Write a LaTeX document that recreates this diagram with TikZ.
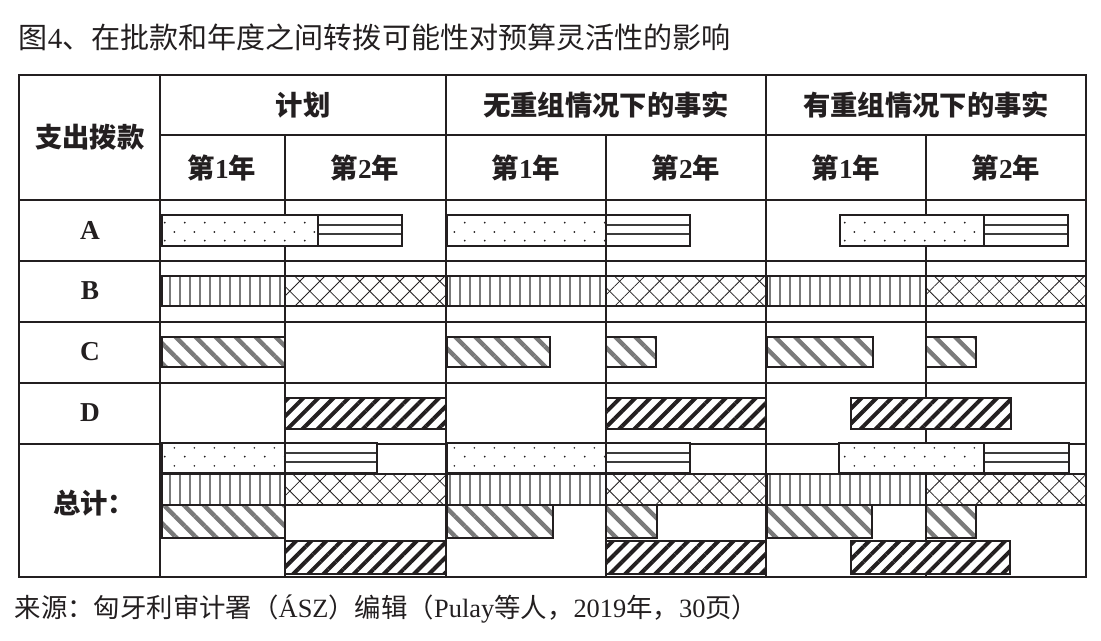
\documentclass[tikz,border=0pt]{standalone}
\usepackage{fontspec}
\setmainfont{Liberation Serif}
\newfontfamily\cjk{Noto Sans CJK SC}
\usepackage{tikz}
\usetikzlibrary{patterns.meta}
\definecolor{moHei}{HTML}{231F20}
\definecolor{zhongHui}{HTML}{7A7A7A}
\definecolor{shenHui}{HTML}{3C3C3C}

% staggered dots (year 1 of appropriation A)
\tikzdeclarepattern{
  name=cuoDian, type=uncolored,
  bottom left={(0pt,0pt)}, top right={(15pt,13.5pt)},
  tile size={(15pt,13.5pt)},
  code={\fill (3.75pt,3.4pt) circle (0.75pt); \fill (11.25pt,10.1pt) circle (0.75pt);}
}
% box with two horizontal lines
\newcommand{\hengTiao}[4]{%
  \draw[tiao] (#1,#2) rectangle (#3,#4);
  \draw[hengxian] (#1,{#2+10}) -- (#3,{#2+10}) (#1,{#2+19.5}) -- (#3,{#2+19.5});
  \draw[kuangxian] (#1,#2) rectangle (#3,#4);}

\begin{document}
\begin{tikzpicture}[x=0.75pt, y=-0.75pt, every node/.style={text=moHei},
  biao/.style={draw=moHei,line width=1.8pt},
  kuangxian/.style={draw=moHei,line width=2pt},
  tiao/.style={kuangxian,preaction={fill=white}},
  hengxian/.style={draw=shenHui,line width=1.5pt},
  dian/.style={tiao,pattern=cuoDian,pattern color=moHei},
  shu/.style={tiao,pattern={Lines[angle=90,distance=7.5pt,line width=1.5pt]},pattern color=zhongHui},
  wang/.style={tiao,preaction={pattern={Lines[angle=45,distance=10.6pt,line width=0.6pt]},pattern color=moHei},
               pattern={Lines[angle=-45,distance=10.6pt,line width=0.6pt]},pattern color=moHei},
  xieC/.style={tiao,pattern={Lines[angle=-45,distance=10.6pt,line width=3.3pt]},pattern color=zhongHui},
  xieD/.style={tiao,pattern={Lines[angle=45,distance=8pt,line width=3pt]},pattern color=moHei},
  biaotou/.style={font=\fontsize{20.5}{24}\selectfont\bfseries}]
\useasboundingbox (0,0) rectangle (1101,641);

\node[anchor=west,font=\fontsize{21.8}{26}\selectfont] (biaoti) at (14,37)
  {{\cjk 图}4{\cjk 、在批款和年度之间转拨可能性对预算灵活性的影响}};

% table grid
\draw[biao] (19,75) rectangle (1086,577);
\draw[biao] (160,135)--(1086,135); \draw[biao] (19,200)--(1086,200);
\draw[biao] (19,261)--(1086,261); \draw[biao] (19,322)--(1086,322);
\draw[biao] (19,383)--(1086,383); \draw[biao] (19,444)--(1086,444);
\draw[biao] (160,75)--(160,577); \draw[biao] (446,75)--(446,577); \draw[biao] (766,75)--(766,577);
\draw[biao] (285,135)--(285,577); \draw[biao] (606,135)--(606,577); \draw[biao] (926,135)--(926,577);

% headers
\node[biaotou] (zhichu) at (90,137) {{\cjk 支出拨款}};
\node[biaotou] (jihua) at (303,105) {{\cjk 计划}};
\node[biaotou] (wuchong) at (606,105) {{\cjk 无重组情况下的事实}};
\node[biaotou] (youchong) at (926,105) {{\cjk 有重组情况下的事实}};
\node[biaotou] (j1) at (222,168) {{\cjk 第}1{\cjk 年}};
\node[biaotou] (j2) at (365,168) {{\cjk 第}2{\cjk 年}};
\node[biaotou] (w1) at (526,168) {{\cjk 第}1{\cjk 年}};
\node[biaotou] (w2) at (686,168) {{\cjk 第}2{\cjk 年}};
\node[biaotou] (y1) at (846,168) {{\cjk 第}1{\cjk 年}};
\node[biaotou] (y2) at (1006,168) {{\cjk 第}2{\cjk 年}};
\node[biaotou] (hangA) at (90,230) {A};
\node[biaotou] (hangB) at (90,291) {B};
\node[biaotou] (hangC) at (90,352) {C};
\node[biaotou] (hangD) at (90,413) {D};
\node[biaotou] (zongji) at (94,503) {{\cjk 总计：}};

% plan
\draw[dian] (162,215) rectangle (318,246); \hengTiao{318}{215}{402}{246}
\draw[shu] (162,276) rectangle (285,306); \draw[wang] (285,276) rectangle (446,306);
\draw[xieC] (162,337) rectangle (285,367);
\draw[xieD] (285,398) rectangle (446,429);
\draw[dian] (162,443) rectangle (285,473); \hengTiao{285}{443}{377}{473}
\draw[shu] (162,474) rectangle (285,505); \draw[wang] (285,474) rectangle (446,505);
\draw[xieC] (162,505) rectangle (285,538);
\draw[xieD] (285,541) rectangle (446,574);

% without reorganisation
\draw[dian] (447,215) rectangle (606,246); \hengTiao{606}{215}{690}{246}
\draw[shu] (447,276) rectangle (606,306); \draw[wang] (606,276) rectangle (766,306);
\draw[xieC] (447,337) rectangle (550,367); \draw[xieC] (606,337) rectangle (656,367);
\draw[xieD] (606,398) rectangle (766,429);
\draw[dian] (447,443) rectangle (606,473); \hengTiao{606}{443}{690}{473}
\draw[shu] (447,474) rectangle (606,505); \draw[wang] (606,474) rectangle (766,505);
\draw[xieC] (447,505) rectangle (553,538); \draw[xieC] (606,505) rectangle (657,538);
\draw[xieD] (606,541) rectangle (766,574);

% with reorganisation
\draw[dian] (840,215) rectangle (984,246); \hengTiao{984}{215}{1068}{246}
\draw[shu] (767,276) rectangle (926,306); \draw[wang] (926,276) rectangle (1086,306);
\draw[xieC] (767,337) rectangle (873,367); \draw[xieC] (926,337) rectangle (976,367);
\draw[xieD] (851,398) rectangle (1011,429);
\draw[dian] (839,443) rectangle (984,473); \hengTiao{984}{443}{1069}{473}
\draw[shu] (767,474) rectangle (926,505); \draw[wang] (926,474) rectangle (1086,505);
\draw[xieC] (767,505) rectangle (872,538); \draw[xieC] (926,505) rectangle (976,538);
\draw[xieD] (851,541) rectangle (1010,574);

\node[anchor=west,font=\fontsize{19.8}{24}\selectfont] (laiyuan) at (10,609)
  {{\cjk 来源：匈牙利审计署（}ÁSZ{\cjk ）编辑（}Pulay{\cjk 等人，}2019{\cjk 年，}30{\cjk 页）}};
\end{tikzpicture}
\end{document}
